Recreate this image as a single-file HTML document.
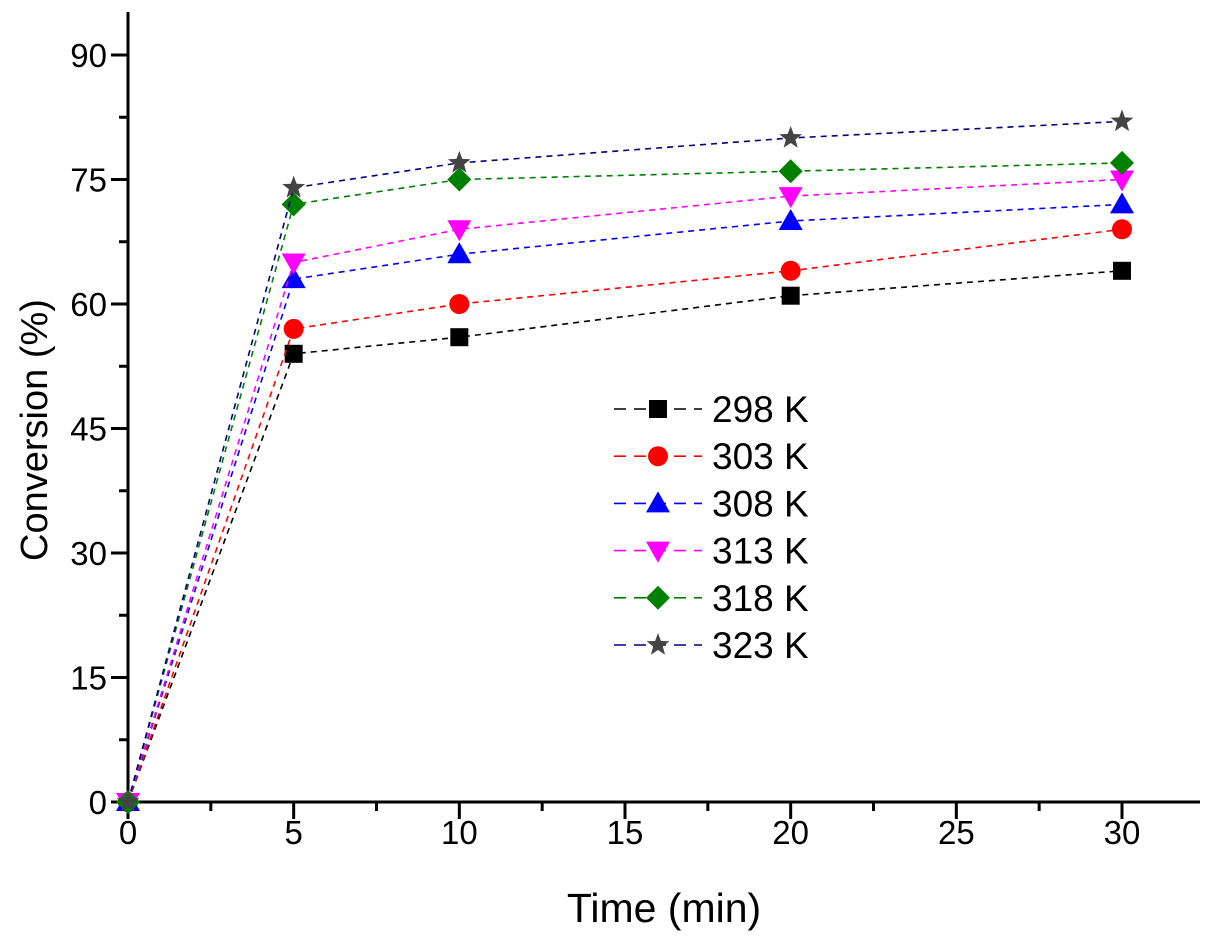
<!DOCTYPE html>
<html><head><meta charset="utf-8"><style>
html,body{margin:0;padding:0;background:#fff;}
svg{display:block;font-family:"Liberation Sans",Arial,sans-serif;}
</style></head><body>
<svg id="chart" width="1211" height="942" viewBox="0 0 1211 942"></svg>
<script>
const times=[0,5,10,20,30];
const labels=["298 K","303 K","308 K","313 K","318 K","323 K"];
const s298=[0,54,56,61,64];
const s303=[0,57,60,64,69];
const s308=[0,63,66,70,72];
const s313=[0,65,69,73,75];
const s318=[0,72,75,76,77];
const s323=[0,74,77,80,82];
const xTicks=[0,5,10,15,20,25,30];
const yTicks=[0,15,30,45,60,75,90];

const NS="http://www.w3.org/2000/svg";
const svg=document.getElementById('chart');
const X0=128,X30=1122,Y0=802,Y90=55;
const xs=v=>X0+(v/30)*(X30-X0);
const ys=v=>Y0-(v/90)*(Y0-Y90);
function el(tag,attrs,parent){const e=document.createElementNS(NS,tag);for(const k in attrs)e.setAttribute(k,attrs[k]);(parent||svg).appendChild(e);return e;}

let ax=el('line',{x1:X0,y1:Y0,x2:1200,y2:Y0,stroke:'#000','stroke-width':3});


let ay=el('line',{x1:X0,y1:Y0,x2:X0,y2:12,stroke:'#000','stroke-width':3});



xTicks.forEach(t=>{
  const x=xs(t);
  el('line',{x1:x,y1:Y0,x2:x,y2:Y0+17,stroke:'#000','stroke-width':3});
  const tx=el('text',{x:x,y:Y0+42,'font-size':33,'text-anchor':'middle'});
  tx.textContent=t;
  
  
});
for(let t=2.5;t<=32.5;t+=5){const x=xs(t);if(x<1200)el('line',{x1:x,y1:Y0,x2:x,y2:Y0+9,stroke:'#000','stroke-width':3});}
yTicks.forEach(t=>{
  const y=ys(t);
  el('line',{x1:X0,y1:y,x2:X0-17,y2:y,stroke:'#000','stroke-width':3});
  const tx=el('text',{x:107,y:y+12,'font-size':33,'text-anchor':'end'});
  tx.textContent=t;
  
  
});
for(let t=7.5;t<95;t+=15){const y=ys(t);if(y>12)el('line',{x1:X0,y1:y,x2:X0-9,y2:y,stroke:'#000','stroke-width':3});}

let xt=el('text',{x:664,y:922,'font-size':41,'text-anchor':'middle'});
xt.textContent='Time (min)';


let yt=el('text',{x:0,y:0,'font-size':38,'text-anchor':'middle',transform:'translate(47,430) rotate(-90)'});
yt.textContent='Conversion (%)';



const series=[s298,s303,s308,s313,s318,s323];
const lineCols=['#000','#f00','#00f','#f0f','#008000','#000080'];
const markCols=['#000','#f00','#00f','#f0f','#008000','#444'];
const shapes=['square','circle','up','down','diamond','star'];
function marker(shape,x,y,c,g){
  if(shape==='square')return el('rect',{x:x-9,y:y-9,width:18,height:18,fill:c},g);
  if(shape==='circle')return el('circle',{cx:x,cy:y,r:10,fill:c},g);
  if(shape==='up')return el('polygon',{points:`${x},${y-12} ${x+12},${y+9} ${x-12},${y+9}`,fill:c},g);
  if(shape==='down')return el('polygon',{points:`${x},${y+12} ${x+12},${y-9} ${x-12},${y-9}`,fill:c},g);
  if(shape==='diamond')return el('polygon',{points:`${x},${y-12} ${x+12},${y} ${x},${y+12} ${x-12},${y}`,fill:c},g);
  let p=[];for(let i=0;i<10;i++){const r=i%2?5:12,a=-Math.PI/2+i*Math.PI/5;p.push((x+r*Math.cos(a)).toFixed(1)+','+(y+r*Math.sin(a)).toFixed(1));}
  return el('polygon',{points:p.join(' '),fill:c},g);
}
series.forEach((s,i)=>{
  const g=el('g',{});
  
  
  el('polyline',{points:s.map((v,j)=>xs(times[j])+','+ys(v)).join(' '),fill:'none',stroke:lineCols[i],'stroke-width':1.6,'stroke-dasharray':'6,5'},g);
  s.forEach((v,j)=>{
    const m=marker(shapes[i],xs(times[j]),ys(v),markCols[i],g);
    
    
  });
  const ly=409+i*47.2;
  const lg=el('g',{});
  
  
  el('line',{x1:614,y1:ly,x2:702,y2:ly,stroke:lineCols[i],'stroke-width':1.6,'stroke-dasharray':'12,8'},lg);
  marker(shapes[i],658,ly,markCols[i],lg);
  const t=el('text',{x:712,y:ly+13,'font-size':37},lg);
  t.textContent=labels[i];
});
</script>
</body></html>
